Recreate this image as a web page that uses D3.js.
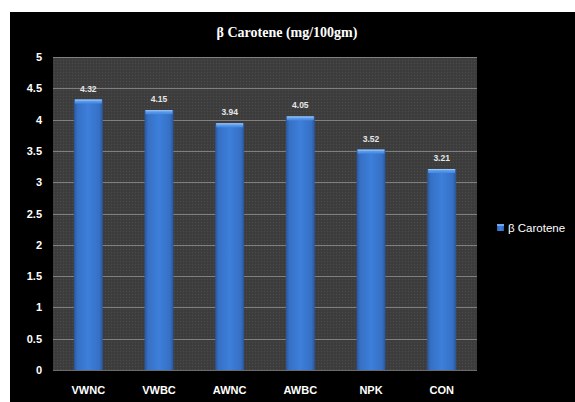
<!DOCTYPE html>
<html>
<head>
<meta charset="utf-8">
<script src="https://cdn.jsdelivr.net/npm/d3@7"></script>
<style>
  html, body { margin: 0; padding: 0; background: #fff; }
  svg { display: block; }
</style>
</head>
<body>
<svg id="chart" width="575" height="402"></svg>
<script>
// Treatments and their β-carotene content (mg/100gm)
const categories = ["VWNC", "VWBC", "AWNC", "AWBC", "NPK", "CON"];
const carotene = [4.32, 4.15, 3.94, 4.05, 3.52, 3.21];
const yTicks = [0, 0.5, 1, 1.5, 2, 2.5, 3, 3.5, 4, 4.5, 5];
const seriesName = "β Carotene";
const titleText = "β Carotene (mg/100gm)";

const svg = d3.select("#chart");
const W = 575, H = 402;
const plot = { left: 53, right: 477, top: 57, bottom: 370 };

// Black chart frame
svg.append("rect").attr("x", 10).attr("y", 12).attr("width", W - 10).attr("height", H - 12)
  .attr("fill", "#000");

const defs = svg.append("defs");

// Fine grain texture for the plot background
const pat = defs.append("pattern").attr("id", "grain").attr("width", 3).attr("height", 3)
  .attr("patternUnits", "userSpaceOnUse");
pat.append("rect").attr("width", 3).attr("height", 3).attr("fill", "#3e3e3e");
pat.append("rect").attr("x", 0).attr("y", 0).attr("width", 1).attr("height", 1).attr("fill", "#4a4a4a");
pat.append("rect").attr("x", 1.5).attr("y", 1.5).attr("width", 1).attr("height", 1).attr("fill", "#363636");

// Bar body gradient: darker at the sides
const gBar = defs.append("linearGradient").attr("id", "barGrad").attr("x1", 0).attr("x2", 1).attr("y1", 0).attr("y2", 0);
[[0, "#2a5597"], [0.12, "#3670c4"], [0.5, "#3d7fdb"], [0.88, "#3670c4"], [1, "#2a5597"]]
  .forEach(([o, c]) => gBar.append("stop").attr("offset", o).attr("stop-color", c));

// Bevelled top cap
const gTop = defs.append("linearGradient").attr("id", "topGrad").attr("x1", 0).attr("x2", 0).attr("y1", 0).attr("y2", 1);
[[0, "#6fa8f0"], [1, "#4287e0"]]
  .forEach(([o, c]) => gTop.append("stop").attr("offset", o).attr("stop-color", c));

const x = d3.scaleBand().domain(categories).range([plot.left, plot.right]).paddingInner(0.59).paddingOuter(0.295);
const y = d3.scaleLinear().domain([0, 5]).range([plot.bottom, plot.top]);

// Plot area
svg.append("rect").attr("x", plot.left).attr("y", plot.top)
  .attr("width", plot.right - plot.left).attr("height", plot.bottom - plot.top)
  .attr("fill", "url(#grain)");

// Gridlines
svg.append("g").selectAll("line").data(yTicks.filter(d => d > 0)).join("line")
  .attr("x1", plot.left).attr("x2", plot.right)
  .attr("y1", d => Math.round(y(d)) + 0.5).attr("y2", d => Math.round(y(d)) + 0.5)
  .attr("stroke", "#808080").attr("stroke-width", 1);

// Baseline
svg.append("line").attr("x1", plot.left).attr("x2", plot.right)
  .attr("y1", plot.bottom + 0.5).attr("y2", plot.bottom + 0.5)
  .attr("stroke", "#6a6a6a");

// Y axis labels
const yAxis = d3.axisLeft(y).tickValues(yTicks).tickSize(0).tickPadding(0).tickFormat(d3.format("~g"));
const yG = svg.append("g").attr("transform", `translate(${plot.left - 11},0)`).call(yAxis);
yG.select(".domain").remove();
yG.selectAll("text").attr("fill", "#fff").attr("font-family", "Liberation Sans, Arial, sans-serif")
  .attr("font-size", 11).attr("font-weight", "bold");

// X axis labels
const xAxis = d3.axisBottom(x).tickSize(0).tickPadding(0);
const xG = svg.append("g").attr("transform", `translate(0,${plot.bottom + 16})`).call(xAxis);
xG.select(".domain").remove();
xG.selectAll("text").attr("fill", "#fff").attr("font-family", "Liberation Sans, Arial, sans-serif")
  .attr("font-size", 11).attr("font-weight", "bold");

// Bars
const data = categories.map((c, i) => ({ c, v: carotene[i] }));
const bars = svg.append("g").selectAll("g").data(data).join("g");
bars.append("rect")
  .attr("x", d => x(d.c)).attr("y", d => y(d.v))
  .attr("width", x.bandwidth()).attr("height", d => plot.bottom - y(d.v))
  .attr("fill", "url(#barGrad)");
bars.append("rect")
  .attr("x", d => x(d.c) + 1).attr("y", d => y(d.v))
  .attr("width", x.bandwidth() - 2).attr("height", 4)
  .attr("fill", "url(#topGrad)");
bars.append("line")
  .attr("x1", d => x(d.c) + 1).attr("x2", d => x(d.c) + x.bandwidth() - 1)
  .attr("y1", d => y(d.v) + 0.5).attr("y2", d => y(d.v) + 0.5)
  .attr("stroke", "#9cc6f7").attr("stroke-width", 1);

// Value labels
bars.append("text")
  .attr("x", d => x(d.c) + x.bandwidth() / 2).attr("y", d => y(d.v) - 8)
  .attr("text-anchor", "middle").attr("fill", "#e6e6e6")
  .attr("font-family", "Liberation Sans, Arial, sans-serif").attr("font-size", 8.5).attr("font-weight", "bold")
  .text(d => d.v.toFixed(2));

// Title
svg.append("text").attr("x", 287).attr("y", 37).attr("text-anchor", "middle")
  .attr("fill", "#fff").attr("font-family", "Liberation Serif, DejaVu Serif, serif")
  .attr("font-size", 14).attr("font-weight", "bold")
  .text(titleText);

// Legend
const lg = svg.append("g").attr("transform", "translate(497,224)");
lg.append("rect").attr("width", 7).attr("height", 7).attr("fill", "url(#barGrad)");
lg.append("rect").attr("width", 7).attr("height", 2).attr("fill", "#6fa8f0");
lg.append("text").attr("x", 11).attr("y", 7.5).attr("fill", "#fff")
  .attr("font-family", "Liberation Sans, Arial, sans-serif").attr("font-size", 11.5)
  .text(seriesName);
</script>
</body>
</html>
